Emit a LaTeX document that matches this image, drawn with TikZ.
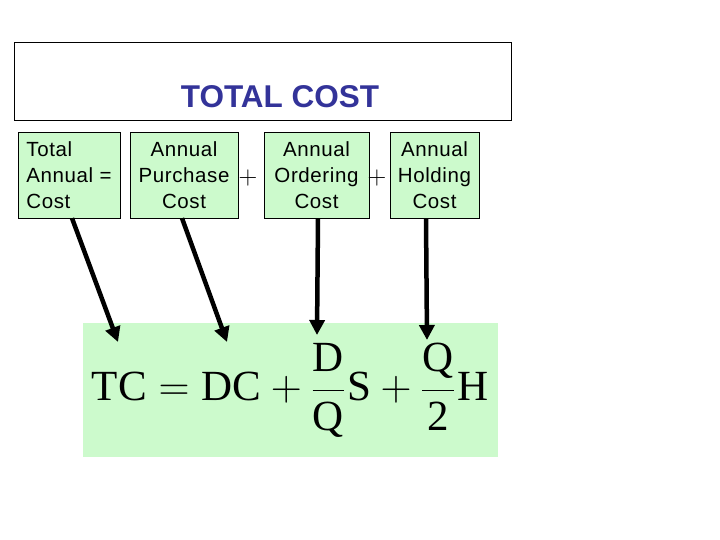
\RequirePackage{fix-cm}
\documentclass[tikz,border=0pt]{standalone}
\usepackage{fontspec}
\setmainfont{Liberation Serif}
\setsansfont{Liberation Sans}[LetterSpace=3]
\usetikzlibrary{arrows.meta}
\definecolor{titleblue}{RGB}{51,51,153}
\definecolor{palegreen}{RGB}{204,250,204}
\begin{document}
\begin{tikzpicture}[
    x=1pt, y=-1pt,
    cbox/.style={rectangle, draw, fill=palegreen, minimum height=86pt, inner sep=1pt,
                 font=\sffamily\fontsize{20.5}{26}\selectfont},
    plus/.style={font=\fontsize{26}{28}\selectfont},
    pointer/.style={draw, line width=4.5pt, -{Triangle[length=15pt, width=15pt]}}
]
  \useasboundingbox (0,0) rectangle (720,540);
  % title
  \node[draw, thick, minimum width=497pt, minimum height=78pt, inner sep=0pt] (titlebox) at (262.5,81) {};
  \node[font=\fontspec{Liberation Sans}\bfseries\fontsize{31.5}{34}\selectfont, text=titleblue] (title) at (280,97) {TOTAL COST};
  % cost boxes
  \node[cbox, minimum width=102pt, align=left] (b1) at (69,175) {Total\\Annual =\\Cost};
  \node[cbox, minimum width=108pt, align=center] (b2) at (184,175) {Annual\\Purchase\\Cost};
  \node[cbox, minimum width=105pt, align=center] (b3) at (316.5,175) {Annual\\Ordering\\Cost};
  \node[cbox, minimum width=89pt, align=center] (b4) at (434.5,175) {Annual\\Holding\\Cost};
  \node[plus] (p1) at (248,178) {$+$};
  \node[plus] (p2) at (377,178) {$+$};
  % formula
  \node[fill=palegreen, minimum width=415pt, minimum height=134pt, inner sep=0pt] (eqbg) at (290.5,390) {};
  \node[font=\fontsize{43}{50}\selectfont, inner sep=0pt] (eq) at (290,390)
    {$\displaystyle \mathrm{TC} = \mathrm{DC} + \frac{\mathrm{D}}{\mathrm{Q}}\mkern1mu\mathrm{S} + \frac{\mathrm{Q}}{\mathrm{2}}\mkern1mu\mathrm{H}$};
  % pointers
  \coordinate (tc) at (118,342);
  \coordinate (dc) at (227,342);
  \coordinate (ds) at (317,335);
  \coordinate (qh) at (427,340);
  \draw[pointer] ([xshift=3pt]b1.south) -- (tc);
  \draw[pointer] ([xshift=-2pt]b2.south) -- (dc);
  \draw[pointer] ([xshift=1.5pt]b3.south) -- (ds);
  \draw[pointer] ([xshift=-8.5pt]b4.south) -- (qh);
\end{tikzpicture}
\end{document}
